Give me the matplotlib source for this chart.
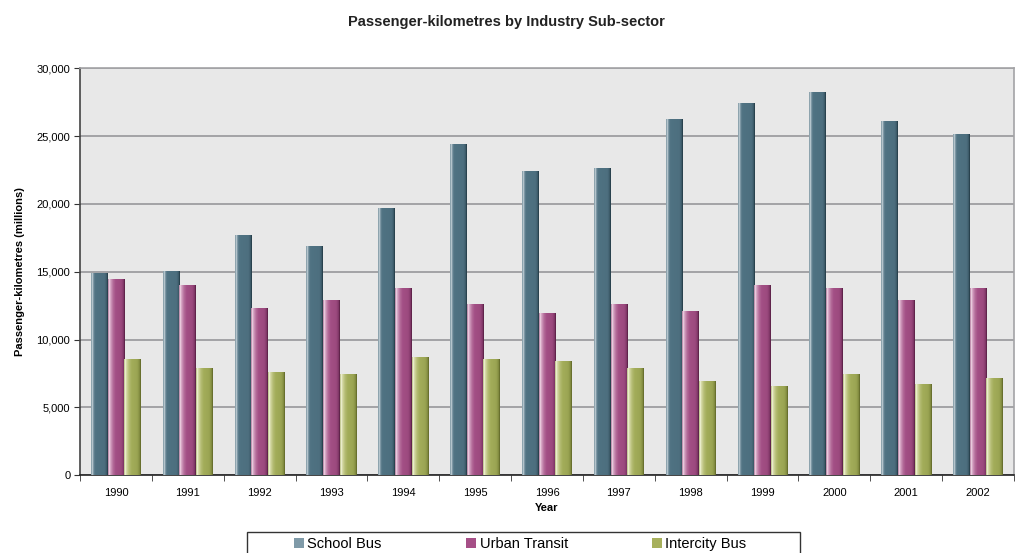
import matplotlib.pyplot as plt
import numpy as np
from matplotlib.colors import LinearSegmentedColormap
from matplotlib.patches import Rectangle, Patch
from matplotlib.ticker import FuncFormatter, FixedLocator

plt.rcParams['font.family'] = ['Liberation Sans', 'DejaVu Sans']

years = ['1990', '1991', '1992', '1993', '1994', '1995', '1996',
         '1997', '1998', '1999', '2000', '2001', '2002']
school_bus = [14850, 15000, 17650, 16900, 19650, 24400, 22400,
              22650, 26200, 27450, 28250, 26100, 25100]
urban_transit = [14450, 14000, 12300, 12850, 13800, 12600, 11900,
                 12600, 12050, 13950, 13750, 12850, 13750]
intercity_bus = [8550, 7850, 7600, 7450, 8650, 8500, 8350,
                 7850, 6900, 6500, 7400, 6650, 7100]

# shading across each bar: (position, colour) pairs
series = [
    ('School Bus', school_bus, '#7f9aa8',
     [0.0, 0.06, 0.12, 0.22, 0.35, 0.8, 0.92, 1.0],
     ['#4d6f7e', '#dfe6ea', '#8aa2ae', '#527484', '#4f7282', '#4d6f7f', '#3f5e6c', '#1e343e']),
    ('Urban Transit', urban_transit, '#a64f87',
     [0.0, 0.05, 0.14, 0.3, 0.45, 0.78, 0.92, 1.0],
     ['#8a3f70', '#f6e4ef', '#d7a6c5', '#b36b99', '#a34f85', '#9c4a7f', '#84396a', '#4e1a3b']),
    ('Intercity Bus', intercity_bus, '#a7b05c',
     [0.0, 0.05, 0.14, 0.3, 0.45, 0.78, 0.92, 1.0],
     ['#8f9848', '#fafbe6', '#d5d9a6', '#b4bb72', '#a3ad5a', '#9ba553', '#858e42', '#596024']),
]

fig = plt.figure(figsize=(10.15, 5.53), dpi=100)
ax = fig.add_axes([80 / 1015, 78 / 553, 934 / 1015, 406.5 / 553])
ax.set_facecolor('#e8e8e8')

x = np.arange(len(years))
w = 0.232
offsets = [-w, 0, w]

for (name, vals, legcol, pos, stops), off in zip(series, offsets):
    cmap = LinearSegmentedColormap.from_list(name, list(zip(pos, stops)))
    bars = ax.bar(x + off, vals, w, color=stops[4], zorder=2)
    grad = np.linspace(0, 1, 128).reshape(1, -1)
    for b in bars:
        x0, y0 = b.get_x(), b.get_y()
        ax.imshow(grad, cmap=cmap, aspect='auto', zorder=3, interpolation='bilinear',
                  extent=[x0, x0 + b.get_width(), y0, y0 + b.get_height()])

ax.set_xlim(-0.5, len(years) - 0.5)
ax.set_ylim(0, 30000)
ax.set_yticks(np.arange(0, 30001, 5000))
ax.yaxis.set_major_formatter(FuncFormatter(lambda v, p: f'{int(v):,}'))
ax.grid(axis='y', color='#a3a3a6', linewidth=1.4, zorder=1)
ax.set_axisbelow(True)

# year labels centred, ticks on the category boundaries
ax.set_xticks(x)
ax.set_xticklabels(years, fontsize=8)
ax.tick_params(axis='x', which='major', length=0, pad=9)
ax.xaxis.set_minor_locator(FixedLocator(np.arange(-0.5, len(years), 1.0)))
ax.tick_params(axis='x', which='minor', length=4, color='#333333')
ax.tick_params(axis='y', labelsize=8, length=4, color='#333333', pad=3)

for s in ['top', 'right']:
    ax.spines[s].set_color('#a3a3a6')
    ax.spines[s].set_linewidth(1.2)
ax.spines['left'].set_color('#444444')
ax.spines['bottom'].set_color('#222222')
ax.spines['left'].set_linewidth(1.2)
ax.spines['bottom'].set_linewidth(1.2)

ax.set_ylabel('Passenger-kilometres (millions)', fontsize=8, fontweight='bold', labelpad=8)
ax.set_xlabel('Year', fontsize=8, fontweight='bold', labelpad=4)
fig.text(506 / 1015, 1 - 22 / 553, 'Passenger-kilometres by Industry Sub-sector',
         ha='center', va='center', fontsize=10.5, fontweight='bold', color='#222222')

# legend frame runs off the bottom edge
fig.patches.append(Rectangle((247 / 1015, -0.05), 553 / 1015, 0.05 + 21 / 553,
                             transform=fig.transFigure, fill=False,
                             edgecolor='#333333', linewidth=1.0))
handles = [Patch(facecolor=s[2], edgecolor='none') for s in series]
fig.legend(handles, [s[0] for s in series], ncol=3, frameon=False,
           loc='center left', bbox_to_anchor=(287 / 1015, 9 / 553),
           fontsize=10.5, handlelength=0.65, handleheight=0.65,
           handletextpad=0.25, columnspacing=5.8, borderpad=0)

fig.savefig('out.png', dpi=100)
